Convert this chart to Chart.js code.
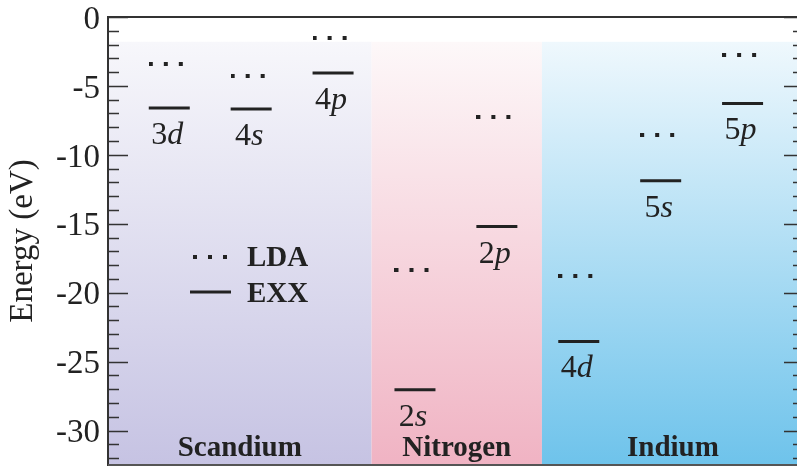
<!DOCTYPE html>
<html>
<head>
<meta charset="utf-8">
<script src="https://cdn.jsdelivr.net/npm/chart.js@4/dist/chart.umd.min.js"></script>
<style>
  html, body { margin: 0; padding: 0; background: #fff; overflow: hidden; }
  #wrap { width: 797px; height: 468px; overflow: hidden; }
  canvas { display: block; }
</style>
</head>
<body>
<div id="wrap"><canvas id="levels" width="810" height="468"></canvas></div>
<script>
// ---------- Data ----------

const levelNames = ["3d", "4s", "4p", "2s", "2p", "4d", "5s", "5p"];
const exxEnergy = [-6.60, -6.68, -4.06, -27.05, -15.20, -23.54, -11.88, -6.27];
const ldaEnergy = [-3.41, -4.31, -1.52, -18.39, -7.24, -18.77, -8.54, -2.74];
const elementNames = ["Scandium", "Nitrogen", "Indium"];
const yTickStep = 1;
const yLabelStep = 5;

// ---------- Layout / style ----------

const serif = "'Liberation Serif', 'Times New Roman', serif";
const ink = "#222";
const elementSpan = [[0.252, 3.47], [3.47, 5.55], [5.55, 8.75]];
const elementTop = ["#f7f7fb", "#fdf8f9", "#eff8fd"];
const elementBottom = ["#c6c3e3", "#f0b3c3", "#6ec3eb"];

// three square dots used for the LDA levels
function makeDots() {
    const c = document.createElement("canvas");
    c.width = 41;
    c.height = 4;
    const g = c.getContext("2d");
    g.fillStyle = ink;
    [0, 15, 30].forEach(x => g.fillRect(x, 0, 4, 4));
    return c;
}
const dots = makeDots();

function drawLevelLabel(ctx, name, cx, baseline) {
    const num = name.slice(0, -1);
    const orb = name.slice(-1);
    ctx.font = "32px " + serif;
    const w1 = ctx.measureText(num).width;
    ctx.font = "italic 32px " + serif;
    const w2 = ctx.measureText(orb).width;
    const x0 = cx - (w1 + w2) / 2;
    ctx.textAlign = "left";
    ctx.textBaseline = "alphabetic";
    ctx.font = "32px " + serif;
    ctx.fillText(num, x0, baseline);
    ctx.font = "italic 32px " + serif;
    ctx.fillText(orb, x0 + w1, baseline);
}

const decor = {
    id: "decor",

    beforeDraw(chart) {
        const {ctx, chartArea: a, scales: {x, y}} = chart;
        ctx.save();
        elementNames.forEach((name, i) => {
            const left = x.getPixelForValue(elementSpan[i][0]);
            const right = x.getPixelForValue(elementSpan[i][1]);
            const top = y.getPixelForValue(-1.8);
            const grad = ctx.createLinearGradient(0, top, 0, a.bottom);
            grad.addColorStop(0, elementTop[i]);
            grad.addColorStop(1, elementBottom[i]);
            ctx.fillStyle = grad;
            ctx.fillRect(left, top, right - left, a.bottom - top);
        });
        ctx.restore();
    },

    afterDraw(chart) {
        const {ctx, chartArea: a, scales: {x, y}} = chart;
        ctx.save();

        // frame
        ctx.lineWidth = 2;
        ctx.strokeStyle = "#333";
        ctx.beginPath();
        ctx.moveTo(a.left, a.top);
        ctx.lineTo(a.right, a.top);
        ctx.lineTo(a.right, a.bottom);
        ctx.stroke();
        ctx.strokeStyle = "#555";
        ctx.beginPath();
        ctx.moveTo(a.left, a.bottom);
        ctx.lineTo(a.right, a.bottom);
        ctx.stroke();

        // inward ticks, left and right
        ctx.strokeStyle = "#333";
        ctx.lineWidth = 1.6;
        y.ticks.forEach(t => {
            if (!Number.isInteger(t.value)) return;
            const py = Math.round(y.getPixelForValue(t.value)) + 0.5;
            const len = t.value % yLabelStep === 0 ? 20 : 11;
            ctx.beginPath();
            ctx.moveTo(a.left, py);
            ctx.lineTo(a.left + len, py);
            ctx.moveTo(a.right, py);
            ctx.lineTo(a.right - len, py);
            ctx.stroke();
        });

        // orbital labels under the EXX levels
        ctx.fillStyle = ink;
        levelNames.forEach((name, i) => {
            drawLevelLabel(ctx, name, x.getPixelForValue(i + 1) - 2, y.getPixelForValue(exxEnergy[i]) + 36);
        });

        // element names
        ctx.font = "bold 29px " + serif;
        ctx.textAlign = "center";
        ctx.textBaseline = "alphabetic";
        elementNames.forEach((name, i) => {
            const cx = (x.getPixelForValue(elementSpan[i][0]) + x.getPixelForValue(elementSpan[i][1])) / 2;
            ctx.fillText(name, cx, a.bottom - 9);
        });

        // legend
        const lx = a.left + 82;
        ctx.drawImage(dots, lx + 3, a.top + 237.5);
        ctx.strokeStyle = ink;
        ctx.lineWidth = 3;
        ctx.beginPath();
        ctx.moveTo(lx, a.top + 275);
        ctx.lineTo(lx + 41, a.top + 275);
        ctx.stroke();
        ctx.textAlign = "left";
        ctx.fillText("LDA", lx + 57, a.top + 249);
        ctx.fillText("EXX", lx + 57, a.top + 284.5);

        ctx.restore();
    }
};

const positions = levelNames.map((n, i) => i + 1);

new Chart(document.getElementById("levels"), {
    type: "scatter",
    data: {
        datasets: [
            {
                label: "EXX",
                data: positions.map((p, i) => ({x: p, y: exxEnergy[i]})),
                pointStyle: "line",
                radius: 20.5,
                hoverRadius: 20.5,
                borderWidth: 3,
                hoverBorderWidth: 3,
                borderColor: ink,
                backgroundColor: ink
            },
            {
                label: "LDA",
                data: positions.map((p, i) => ({x: p, y: ldaEnergy[i]})),
                pointStyle: dots,
                radius: 20,
                borderColor: ink,
                backgroundColor: ink
            }
        ]
    },
    options: {
        responsive: false,
        animation: false,
        events: [],
        layout: {
            autoPadding: false,
            padding: {left: 0, top: 17, right: 6, bottom: 3}
        },
        plugins: {
            legend: {display: false},
            tooltip: {enabled: false}
        },
        scales: {
            x: {
                type: "linear",
                display: false,
                min: 0.252,
                max: 8.75
            },
            y: {
                type: "linear",
                min: -32.5,
                max: 0,
                afterFit(s) {
                    s.width = 108;
                    s.paddingTop = 0;
                    s.paddingBottom = 0;
                },
                ticks: {
                    stepSize: yTickStep,
                    autoSkip: false,
                    includeBounds: false,
                    padding: 8,
                    labelOffset: 3,
                    color: ink,
                    font: {family: serif, size: 33},
                    callback: v => (v % yLabelStep === 0 ? v : "")
                },
                grid: {display: false, drawTicks: false},
                border: {display: true, color: "#333", width: 2},
                title: {
                    display: true,
                    text: "Energy (eV)",
                    color: ink,
                    font: {family: serif, size: 33},
                    padding: {top: 4, bottom: 0}
                }
            }
        }
    },
    plugins: [decor]
});
</script>
</body>
</html>
